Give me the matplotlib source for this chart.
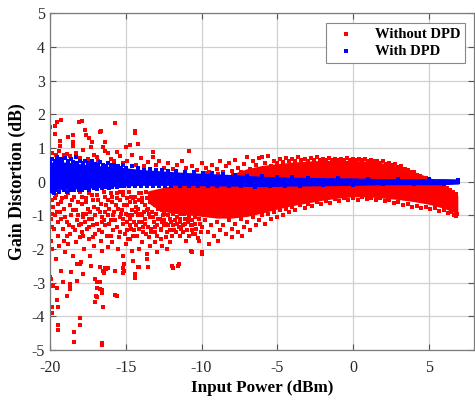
import numpy as np
from matplotlib import pyplot as plt

plt.rcParams['font.family'] = ['Liberation Serif', 'DejaVu Serif']
plt.rcParams['axes.unicode_minus'] = False

# solid red core of the "without DPD" cloud (upper / lower edge)
red_core_x = [-13.5, -13.0, -12.5, -12.0, -11.0, -10.0, -9.0, -8.0, -7.0, -6.0, -5.0, -4.0, -3.0, -2.0, -1.0, 0.0, 1.0, 2.0, 3.0, 4.0, 5.0, 5.5, 6.0, 6.5, 6.85]
red_core_hi = [-0.3, -0.25, -0.2, -0.15, -0.1, -0.05, 0.0, 0.2, 0.35, 0.45, 0.5, 0.55, 0.58, 0.6, 0.6, 0.6, 0.58, 0.52, 0.42, 0.27, 0.1, 0.0, -0.15, -0.3, -0.42]
red_core_lo = [-0.6, -0.75, -0.85, -0.9, -0.95, -1.0, -1.05, -1.05, -1.0, -0.9, -0.78, -0.68, -0.6, -0.52, -0.46, -0.42, -0.42, -0.46, -0.5, -0.56, -0.64, -0.7, -0.76, -0.85, -0.92]

# solid blue core of the "with DPD" band
blue_core_x = [-20, -19, -18, -17, -16, -15, -14, -13, -12, -11, -10, -8, -6, -4, -2, 0, 2, 4, 6, 6.95]
blue_core_hi = [0.55, 0.55, 0.5, 0.45, 0.42, 0.38, 0.33, 0.3, 0.27, 0.24, 0.22, 0.18, 0.13, 0.1, 0.09, 0.08, 0.06, 0.06, 0.06, 0.05]
blue_core_lo = [-0.2, -0.2, -0.18, -0.15, -0.12, -0.1, -0.08, -0.08, -0.08, -0.08, -0.09, -0.1, -0.12, -0.1, -0.09, -0.08, -0.06, -0.06, -0.06, -0.04]

# scattered red points above the blue band
red_upper_pts = [
    (-20.0, 1.63), (-19.7, 1.66), (-19.55, 1.76), (-19.26, 1.84), (-19.7, 1.42), (-19.35, 1.22), (-19.35, 1.05),
    (-18.8, 1.34), (-18.5, 1.38), (-18.5, 1.17), (-18.45, 1.05), (-18.1, 1.76), (-17.9, 1.81), (-17.7, 1.53),
    (-17.6, 1.38), (-17.4, 1.31), (-17.2, 1.17), (-17.3, 1.02), (-16.7, 1.46), (-16.65, 1.5), (-16.5, 1.02),
    (-16.4, 1.17), (-16.4, 0.92), (-15.7, 1.74), (-15.6, 0.87), (-15.0, 1.02), (-14.7, 1.1), (-14.4, 1.49),
    (-14.38, 1.44), (-14.2, 1.12), (-13.2, 0.87), (-13.2, 0.73), (-10.8, 0.92),
    (-19.9, 0.85), (-19.6, 0.8), (-19.4, 0.9), (-19.1, 0.78), (-18.9, 0.82), (-18.7, 0.75), (-18.3, 0.85),
    (-18.0, 0.7), (-17.8, 0.95), (-17.5, 0.68), (-17.1, 0.8), (-16.9, 0.72), (-16.8, 0.62), (-16.2, 0.85),
    (-16.0, 0.68), (-15.8, 0.6), (-15.4, 0.75), (-15.2, 0.55), (-14.9, 0.62), (-14.6, 0.8), (-14.3, 0.5),
    (-14.0, 0.7), (-13.8, 0.45), (-13.5, 0.58), (-13.0, 0.48), (-12.8, 0.6), (-12.5, 0.42), (-12.2, 0.55),
    (-11.9, 0.38), (-11.6, 0.5), (-11.3, 0.62), (-11.0, 0.4), (-10.6, 0.47), (-10.3, 0.35), (-10.0, 0.55),
    (-9.7, 0.4), (-9.5, 0.3), (-9.3, 0.5), (-9.0, 0.38), (-8.8, 0.6), (-8.6, 0.28), (-8.4, 0.45), (-8.2, 0.55),
    (-8.0, 0.33), (-7.8, 0.65), (-7.6, 0.42), (-7.4, 0.3), (-7.2, 0.52), (-7.0, 0.72), (-6.8, 0.38),
    (-6.6, 0.6), (-6.4, 0.48), (-6.2, 0.7), (-6.0, 0.72), (-5.8, 0.55), (-5.6, 0.75), (-5.4, 0.45),
    (-5.2, 0.62), (-9.8, 0.25), (-8.9, 0.22), (-7.9, 0.2), (-6.9, 0.25), (-5.9, 0.3), (-5.1, 0.4),
    (-5.0, 0.56), (-4.8, 0.68), (-4.6, 0.58), (-4.4, 0.7), (-4.2, 0.6), (-4.0, 0.66), (-3.8, 0.62),
    (-3.6, 0.72), (-3.4, 0.63), (-3.2, 0.68), (-3.0, 0.62), (-2.8, 0.7), (-2.6, 0.64), (-2.4, 0.72),
    (-2.2, 0.65), (-2.0, 0.68), (-1.8, 0.63), (-1.6, 0.7), (-1.4, 0.65), (-1.2, 0.68), (-1.0, 0.63),
    (-0.8, 0.67), (-0.6, 0.64), (-0.4, 0.7), (-0.2, 0.63), (0.0, 0.66), (0.2, 0.64), (0.4, 0.68),
    (0.6, 0.63), (0.8, 0.66), (1.0, 0.61), (1.2, 0.65), (1.4, 0.6), (1.6, 0.62), (1.8, 0.56), (2.0, 0.6),
    (2.2, 0.53), (2.4, 0.56), (2.6, 0.49), (2.8, 0.52), (3.0, 0.44), (3.2, 0.45), (3.4, 0.37), (3.6, 0.36),
    (3.8, 0.29), (4.0, 0.28), (4.2, 0.2), (4.4, 0.18), (4.6, 0.12), (4.8, 0.12), (5.0, 0.08), (5.2, 0.02),
    (5.4, 0.0), (5.6, -0.06), (5.8, -0.1), (6.0, -0.15), (6.2, -0.2), (6.4, -0.24), (6.6, -0.3), (6.8, -0.38),
]

# scattered red points in the low-power region (left part of the cloud)
red_left_pts = [
    (-19.95, -0.3), (-19.9, -0.55), (-19.85, -0.95), (-19.92, -1.1), (-19.88, -1.36), (-19.95, -1.75), (-19.8, -0.75),
    (-19.6, -0.4), (-19.5, -0.65), (-19.55, -0.9), (-19.45, -1.2), (-19.5, -1.6), (-19.6, -2.3), (-19.4, -1.9),
    (-19.2, -0.5), (-19.1, -0.8), (-19.0, -1.05), (-19.15, -1.4), (-19.05, -1.75), (-19.3, -2.64), (-19.15, -2.99), (-19.0, -2.1),
    (-18.8, -0.35), (-18.7, -0.7), (-18.6, -1.0), (-18.75, -1.3), (-18.65, -1.55), (-18.6, -2.69), (-18.7, -3.14), (-18.8, -1.85),
    (-18.4, -0.45), (-18.3, -0.85), (-18.25, -1.15), (-18.35, -1.45), (-18.2, -2.44), (-18.3, -1.8), (-18.15, -0.6),
    (-18.0, -0.3), (-17.9, -0.65), (-17.8, -0.95), (-17.95, -1.25), (-17.8, -2.74), (-17.85, -1.6), (-17.75, -2.0),
    (-17.6, -0.5), (-17.5, -0.8), (-17.4, -1.1), (-17.55, -1.4), (-17.45, -1.7), (-17.35, -2.2),
    (-17.2, -0.4), (-17.1, -0.75), (-17.0, -1.0), (-17.15, -1.3), (-17.05, -1.55), (-17.0, -2.89), (-16.95, -3.38), (-17.0, -3.58), (-17.1, -1.9),
    (-16.8, -0.55), (-16.7, -0.9), (-16.6, -1.2), (-16.75, -1.45), (-16.65, -1.75), (-16.7, -2.54), (-16.7, -3.19), (-16.6, -2.05),
    (-16.4, -0.45), (-16.3, -0.7), (-16.2, -1.0), (-16.35, -1.3), (-16.25, -1.6), (-16.5, -3.71), (-16.4, -2.6), (-16.2, -1.95),
    (-16.0, -0.35), (-15.9, -0.6), (-15.8, -0.9), (-15.95, -1.15), (-15.85, -1.45), (-15.7, -2.64), (-15.6, -3.38), (-15.9, -1.8),
    (-15.6, -0.5), (-15.5, -0.8), (-15.4, -1.05), (-15.55, -1.35), (-15.45, -1.65), (-15.5, -2.0), (-15.35, -0.3),
    (-15.2, -0.4), (-15.1, -0.7), (-15.0, -0.95), (-15.15, -1.25), (-15.05, -1.55), (-15.1, -2.44), (-15.2, -2.2), (-15.1, -2.64), (-15.0, -1.85),
    (-14.8, -0.3), (-14.7, -0.6), (-14.6, -0.85), (-14.75, -1.1), (-14.65, -1.4), (-14.7, -1.7), (-14.5, -2.35), (-14.4, -2.74), (-14.6, -2.05),
    (-14.4, -0.45), (-14.3, -0.75), (-14.2, -1.0), (-14.35, -1.3), (-14.25, -1.6), (-14.2, -2.54), (-14.1, -2.0),
    (-14.0, -0.35), (-13.9, -0.6), (-13.8, -0.9), (-13.95, -1.2), (-13.85, -1.5), (-13.6, -2.29), (-13.55, -2.54), (-13.9, -1.8),
    (-13.6, -0.5), (-13.5, -0.8), (-13.4, -1.05), (-13.55, -1.35), (-13.45, -1.65), (-13.6, -2.14), (-13.4, -1.9),
    (-13.2, -0.4), (-13.1, -0.7), (-13.0, -0.95), (-13.15, -1.2), (-13.05, -1.5), (-13.1, -1.8), (-12.95, -2.1), (-13.0, -0.55),
    (-12.8, -0.3), (-12.7, -0.6), (-12.6, -0.85), (-12.75, -1.1), (-12.65, -1.4), (-12.7, -1.7), (-12.55, -1.0), (-12.6, -0.45),
    (-12.4, -0.45), (-12.3, -0.75), (-12.2, -1.0), (-12.35, -1.25), (-12.25, -1.5), (-12.2, -0.3), (-12.1, -0.65),
    (-14.9, -0.5), (-14.85, -1.0), (-14.95, -1.45), (-14.5, -0.5), (-14.45, -1.2), (-14.55, -1.6), (-14.1, -0.55),
    (-14.05, -0.95), (-14.15, -1.4), (-13.7, -0.7), (-13.75, -1.1), (-13.65, -1.55), (-13.3, -0.6), (-13.25, -0.9),
    (-13.35, -1.4), (-12.9, -0.45), (-12.85, -0.8), (-12.95, -1.3), (-12.5, -0.55), (-12.45, -0.95), (-12.5, -1.3),
    (-12.05, -0.4), (-12.0, -0.85), (-12.1, -1.1), (-11.8, -0.3), (-11.7, -0.7), (-11.75, -1.15), (-11.5, -0.5),
    (-11.45, -0.95), (-11.5, -1.35), (-11.2, -0.35), (-11.25, -0.8), (-11.1, -1.1), (-10.9, -0.6), (-10.85, -1.0), (-10.7, -1.3),
    # second, interleaved pass over the busy part of the cloud
    (-19.7, -0.5), (-19.65, -1.0), (-19.75, -1.4), (-19.3, -0.6), (-19.25, -1.1), (-19.35, -0.9), (-18.95, -0.45),
    (-18.9, -1.2), (-18.85, -1.6), (-18.55, -0.55), (-18.5, -0.85), (-18.45, -1.35), (-18.15, -1.0), (-18.1, -1.3),
    (-18.05, -1.65), (-17.9, -0.45), (-17.85, -1.05), (-17.9, -1.5), (-17.65, -0.6), (-17.7, -1.2), (-17.6, -0.95),
    (-17.4, -0.35), (-17.35, -0.9), (-17.4, -1.35), (-17.15, -0.55), (-17.2, -1.1), (-17.15, -1.65), (-16.9, -0.4),
    (-16.85, -0.8), (-16.9, -1.25), (-16.65, -0.65), (-16.6, -1.05), (-16.55, -1.5), (-16.45, -0.3), (-16.4, -0.9),
    (-16.45, -1.15), (-16.15, -0.55), (-16.1, -1.25), (-16.1, -0.8), (-15.9, -0.45), (-15.85, -1.0), (-15.95, -1.6),
    (-15.65, -0.7), (-15.7, -1.15), (-15.6, -0.35), (-15.4, -0.55), (-15.3, -0.95), (-15.35, -1.5), (-15.15, -0.3),
    (-15.25, -0.85), (-15.2, -1.1), (-14.9, -0.7), (-14.95, -1.2), (-14.85, -1.7), (-14.65, -0.45), (-14.6, -1.0),
    (-14.7, -1.3), (-14.4, -0.6), (-14.35, -0.9), (-14.45, -1.45), (-14.15, -0.35), (-14.2, -0.8), (-14.1, -1.2),
    (-13.9, -0.5), (-13.95, -1.0), (-13.85, -1.35), (-13.65, -0.3), (-13.6, -0.85), (-13.7, -1.25), (-13.4, -0.6),
    (-13.45, -0.95), (-13.35, -1.5), (-13.15, -0.45), (-13.2, -1.05), (-13.1, -1.35), (-12.9, -0.7), (-12.85, -1.1),
    (-12.95, -1.6), (-12.65, -0.35), (-12.6, -1.2), (-12.7, -1.45), (-12.4, -0.6), (-12.45, -1.15), (-12.35, -1.65),
    (-12.15, -0.5), (-12.2, -1.3), (-12.1, -1.45), (-11.9, -0.95), (-11.85, -1.3), (-11.95, -1.6), (-11.65, -0.9),
    (-11.6, -1.25), (-11.7, -1.5), (-11.4, -1.1), (-11.35, -1.4), (-11.45, -1.2), (-11.15, -0.95), (-11.2, -1.5),
    (-11.1, -1.25), (-10.9, -1.2), (-10.95, -1.45), (-10.85, -1.6), (-10.65, -1.15), (-10.6, -1.3), (-10.55, -1.55),
    (-10.4, -1.05), (-10.35, -1.4), (-10.45, -1.55), (-10.15, -1.1), (-10.1, -1.25), (-10.05, -1.5),
    # deep outliers
    (-20.0, -2.84), (-19.95, -2.9), (-19.8, -3.09), (-19.55, -3.17), (-19.9, -3.71), (-19.88, -3.9), (-19.55, -3.5),
    (-19.5, -3.71), (-19.45, -4.27), (-19.45, -4.4), (-18.9, -3.38), (-18.7, -3.18), (-18.68, -3.05), (-18.4, -4.47),
    (-18.4, -4.77), (-18.0, -4.04), (-18.0, -4.27), (-18.2, -2.94), (-18.0, -2.44), (-17.95, -2.4), (-16.9, -2.99),
    (-16.88, -3.15), (-16.9, -3.43), (-16.7, -2.99), (-16.6, -3.22), (-16.55, -3.3), (-16.5, -2.64), (-16.45, -2.7),
    (-16.4, -2.55), (-16.3, -2.6), (-16.2, -2.55), (-15.7, -3.36), (-16.6, -4.78), (-16.6, -4.85), (-15.2, -2.55),
    (-15.15, -2.7), (-14.4, -2.87), (-14.1, -2.54), (-13.6, -2.14), (-19.9, -2.0), (-18.5, -2.2), (-17.3, -2.5),
]

# red points along the lower edge of the solid core
red_low_pts = [
    (-12.0, -1.2), (-11.8, -1.45), (-11.6, -1.05), (-11.4, -1.6), (-11.2, -1.3), (-11.0, -1.75), (-10.8, -1.1),
    (-10.6, -1.45), (-10.4, -1.25), (-10.2, -1.67), (-10.15, -1.75), (-10.0, -1.35), (-9.8, -1.15), (-9.6, -1.5),
    (-9.4, -1.3), (-9.2, -1.6), (-9.0, -1.2), (-8.8, -1.45), (-8.6, -1.28), (-8.4, -1.55), (-8.2, -1.15),
    (-8.0, -1.4), (-7.8, -1.25), (-7.6, -1.5), (-7.4, -1.1), (-7.2, -1.35), (-7.0, -1.2), (-6.8, -1.45),
    (-6.6, -1.05), (-6.4, -1.3), (-6.2, -1.15), (-6.0, -1.0), (-5.8, -1.25), (-5.6, -0.95), (-5.4, -1.1),
    (-5.2, -0.9), (-5.0, -1.05), (-4.8, -0.85), (-4.6, -0.98), (-4.4, -0.8), (-4.2, -0.9), (-4.0, -0.75),
    (-3.8, -0.85), (-3.5, -0.7), (-3.2, -0.78), (-3.0, -0.65), (-2.7, -0.72), (-2.4, -0.6), (-2.1, -0.66),
    (-1.8, -0.56), (-1.5, -0.62), (-1.2, -0.52), (-0.9, -0.57), (-0.6, -0.5), (-0.3, -0.55), (0.0, -0.48),
    (0.3, -0.53), (0.6, -0.47), (0.9, -0.52), (1.2, -0.48), (1.5, -0.55), (1.8, -0.5), (2.1, -0.58),
    (2.4, -0.55), (2.7, -0.62), (3.0, -0.6), (3.3, -0.68), (3.6, -0.65), (3.9, -0.74), (4.2, -0.72),
    (4.5, -0.78), (4.8, -0.75), (5.1, -0.8), (5.4, -0.78), (5.7, -0.86), (6.0, -0.85), (6.3, -0.92),
    (6.5, -0.9), (6.7, -0.98), (6.85, -0.97), (6.8, -1.03),
    (-11.95, -2.49), (-11.9, -2.55), (-11.55, -2.49), (-11.5, -2.43), (-10.7, -2.05), (-10.65, -2.1),
    (-9.98, -2.15), (-9.95, -2.1), (-9.5, -1.85), (-8.9, -1.75), (-8.0, -1.65), (-7.3, -1.6), (-12.3, -2.0),
    (-12.6, -1.9), (-12.1, -1.8),
]

# blue points at the edges of the "with DPD" band
blue_pts = [
    (-20.0, 0.62), (-19.95, 0.3), (-19.9, -0.28), (-19.85, 0.68), (-19.8, 0.1), (-19.75, -0.33), (-19.7, 0.6),
    (-19.6, -0.25), (-19.55, 0.74), (-19.5, 0.62), (-19.4, -0.3), (-19.3, 0.66), (-19.2, 0.6), (-19.1, -0.26),
    (-19.0, 0.7), (-18.9, -0.3), (-18.8, 0.6), (-18.7, -0.24), (-18.6, 0.66), (-18.5, 0.58), (-18.4, -0.26),
    (-18.3, 0.72), (-18.2, 0.56), (-18.1, -0.24), (-18.0, 0.6), (-17.9, -0.26), (-17.8, 0.55), (-17.7, 0.62),
    (-17.6, -0.2), (-17.5, 0.55), (-17.4, -0.24), (-17.3, 0.52), (-17.2, 0.6), (-17.1, -0.2), (-17.0, 0.52),
    (-16.9, -0.22), (-16.8, 0.5), (-16.7, 0.58), (-16.6, -0.18), (-16.5, 0.5), (-16.4, -0.16), (-16.3, 0.46),
    (-16.2, 0.55), (-16.1, -0.18), (-16.0, 0.48), (-15.9, -0.15), (-15.8, 0.5), (-15.7, 0.44), (-15.6, -0.16),
    (-15.5, 0.46), (-15.4, -0.14), (-15.3, 0.42), (-15.2, 0.5), (-15.1, -0.14), (-15.0, 0.42), (-14.8, -0.12),
    (-14.6, 0.45), (-14.4, -0.12), (-14.2, 0.4), (-14.0, -0.13), (-13.8, 0.36), (-13.6, -0.12), (-13.4, 0.38),
    (-13.2, -0.12), (-13.0, 0.35), (-12.8, -0.12), (-12.6, 0.35), (-12.4, -0.12), (-12.2, 0.32), (-12.0, -0.12),
    (-11.7, 0.32), (-11.4, -0.12), (-11.1, 0.3), (-10.8, -0.12), (-10.5, 0.28), (-10.2, -0.12), (-9.9, 0.26),
    (-9.6, -0.13), (-9.3, 0.25), (-9.0, -0.13), (-8.6, 0.23), (-8.2, -0.13), (-7.8, 0.2), (-7.4, -0.14),
    (-7.0, 0.18), (-6.5, -0.15), (-6.0, 0.17), (-5.5, -0.14), (-5.0, 0.15), (-4.5, -0.13), (-4.0, 0.14),
    (-3.5, -0.12), (-3.0, 0.12), (-2.0, -0.11), (-1.0, 0.11), (0.0, -0.1), (1.0, 0.09), (2.0, -0.08),
    (3.0, 0.08), (4.0, -0.08), (5.0, 0.08), (6.0, -0.07), (6.9, 0.05), (6.95, -0.02), (6.92, 0.02),
]

red_all = np.array(red_upper_pts + red_left_pts + red_low_pts)
blue_all = np.array(blue_pts)

fig = plt.figure(figsize=(4.75, 4.01), dpi=100)
ax = fig.add_axes([0.1053, 0.127, 0.893, 0.840])

ms = 5.5
ax.fill_between(red_core_x, red_core_lo, red_core_hi, color='#ff0000', lw=1.5, edgecolor='#ff0000', zorder=2)
ax.scatter(red_all[:, 0], red_all[:, 1], s=ms, c='#ff0000', marker='s', linewidths=0, zorder=2, label='Without DPD')
ax.fill_between(blue_core_x, blue_core_lo, blue_core_hi, color='#0000ff', lw=1.5, edgecolor='#0000ff', zorder=3)
ax.scatter(blue_all[:, 0], blue_all[:, 1], s=ms, c='#0000ff', marker='s', linewidths=0, zorder=3, label='With DPD')

ax.set_xlim(-20, 8)
ax.set_ylim(-5, 5)
ax.set_xticks([-20, -15, -10, -5, 0, 5])
ax.set_yticks(range(-5, 6))
ax.grid(True, color='#d0d0d0', lw=0.9)
ax.set_axisbelow(True)
ax.tick_params(direction='in', top=True, right=True, length=4, labelsize=11.5, colors='#555555', labelcolor='#262626')
ax.tick_params(axis='x', pad=7)
for sp in ax.spines.values():
    sp.set_color('#7a7a7a')
    sp.set_linewidth(0.9)

ax.set_xlabel('Input Power (dBm)', fontsize=12.3, fontweight='bold', labelpad=3)
ax.set_ylabel('Gain Distortion (dB)', fontsize=12.8, fontweight='bold', labelpad=4)

leg = ax.legend(loc='upper right', bbox_to_anchor=(0.979, 0.972), borderaxespad=0, fancybox=False, framealpha=1,
                edgecolor='#888888', prop={'weight': 'bold', 'size': 10.5}, markerscale=1.2,
                handletextpad=1.0, borderpad=0.35, labelspacing=0.25)
leg.get_frame().set_linewidth(0.8)

plt.savefig('out.png', dpi=100)
